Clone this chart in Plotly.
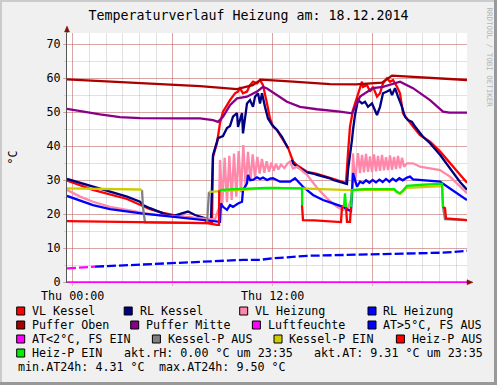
import plotly.graph_objects as go

# ---------------- data (time in hours of Thu 18.12.2014, values in °C) ----------------
vl_kessel_t = [-0.34, 1.22, 3.26, 4.22, 4.64, 5.42, 6.44, 7.46, 7.94, 8.06, 8.36, 8.42, 8.66, 8.84, 9.02,
               9.26, 9.44, 9.74, 9.92, 10.04, 10.22, 10.46, 10.64, 10.82, 11.06, 11.24, 11.42, 11.66, 11.84,
               12.02, 12.26, 12.44, 12.92, 13.22, 13.46, 14.06, 14.66, 15.62, 16.40, 16.52, 16.64, 16.82,
               17.12, 17.36, 17.42, 17.66, 17.84, 18.02, 18.26, 18.44, 18.62, 18.86, 19.04, 19.22, 19.46,
               19.64, 19.82, 20.12, 20.42, 20.84, 21.44, 22.04, 22.64, 23.24, 23.66]
vl_kessel_v = [29.9, 27.2, 24.5, 22.4, 21.5, 20.4, 19.4, 18.8, 18.3, 17.6, 17.4, 36.9, 41.0, 46.8, 50.2,
               52.1, 53.6, 55.6, 56.1, 57.1, 55.6, 56.1, 58.0, 59.0, 58.5, 59.5, 58.0, 52.6, 48.2,
               45.8, 44.8, 43.3, 39.6, 35.6, 34.4, 32.5, 31.9, 30.4, 29.2, 38.0, 45.8, 50.7,
               55.6, 59.0, 57.5, 58.0, 56.1, 57.5, 54.6, 55.6, 58.5, 60.0, 59.0, 59.5, 57.5,
               55.6, 49.7, 47.7, 45.8, 43.3, 41.4, 38.5, 35.0, 31.5, 29.3]

rl_kessel_t = [-0.34, 1.22, 3.26, 4.04, 4.22, 4.64, 5.42, 6.02, 6.62, 6.92, 7.34, 7.64, 7.94, 8.12, 8.30,
               8.36, 8.42, 8.72, 9.02, 9.26, 9.44, 9.62, 9.86, 9.92, 10.16, 10.22, 10.46, 10.64, 10.82,
               10.94, 11.12, 11.24, 11.36, 11.54, 11.72, 11.96, 12.26, 12.56, 12.92, 12.98, 13.16, 13.22,
               13.46, 13.64, 14.06, 14.42, 14.66, 15.44, 15.62, 16.34, 16.46, 16.52, 16.64, 16.76, 16.82,
               16.94, 17.12, 17.36, 17.54, 17.72, 17.96, 18.14, 18.26, 18.44, 18.62, 18.86, 19.04, 19.16,
               19.34, 19.52, 19.76, 19.94, 20.12, 20.36, 20.54, 21.02, 21.44, 22.04, 22.64, 23.24, 23.66]
rl_kessel_v = [30.4, 28.1, 25.2, 23.7, 22.7, 21.8, 20.3, 19.5, 20.3, 20.8, 19.8, 19.3, 19.0, 18.6, 18.5,
               32.1, 37.4, 42.4, 43.0, 45.4, 46.0, 48.7, 49.8, 45.7, 49.8, 43.8, 52.6, 53.6, 51.6,
               54.6, 55.6, 52.6, 55.6, 51.6, 48.2, 46.3, 44.8, 42.8, 39.4, None, 36.0, 35.0,
               34.0, 33.5, 32.3, 32.0, 31.6, 30.6, 30.1, 29.1, 28.9, 33.0, 36.9, 41.9, 44.8,
               49.2, 53.6, 52.6, 53.1, 51.6, 52.6, 50.7, 49.2, 51.6, 55.6, 56.1, 56.6, 55.1,
               57.1, 54.6, 51.6, 48.7, 47.7, 47.2, 45.8, 42.8, 40.9, 37.5, 33.5, 29.5, 27.2]

vl_heizung_t = [-0.34, 0.44, 1.22, 2.24, 3.26, 4.22, 5.24, 6.26, 7.46, 8.06, 8.54, 8.78,
                8.84, 8.98, 9.12, 9.26, 9.40, 9.54, 9.68, 9.82, 9.96, 10.10, 10.24, 10.38, 10.52, 10.66,
                10.80, 10.94, 11.08, 11.22, 11.36, 11.50, 11.64, 11.78, 11.92, 12.06, 12.20, 12.34,
                12.50, 12.70, 12.90, 13.04, 13.22, 13.46, 14.06, 14.66, 15.26, 15.86, 16.22, 16.52,
                16.76, 16.82, 16.94, 17.12, 17.24, 17.36, 17.48, 17.60, 17.72, 17.84, 17.96, 18.08,
                18.20, 18.32, 18.44, 18.56, 18.68, 18.80, 18.92, 19.04, 19.16, 19.28, 19.40, 19.52,
                19.64, 19.76, 19.88, 20.06, 20.42, 20.84, 21.44, 22.04, 22.64, 23.24, 23.66]
vl_heizung_v = [27.2, 25.2, 23.7, 22.2, 21.3, 20.4, 19.7, 19.3, 19.0, 18.7, 18.5, 22.0,
                36.0, 23.2, 36.6, 23.6, 37.2, 24.2, 37.9, 25.2, 38.6, 26.5, 40.4, 28.1, 38.4, 29.5,
                37.6, 30.8, 36.9, 32.0, 36.3, 32.2, 35.6, 32.5, 35.2, 32.8, 34.8, 33.2,
                34.6, 33.6, 35.0, 35.5, 33.5, 34.0, 31.6, 27.8, 24.7, 22.2, 21.3, 21.8,
                25.2, 37.9, 29.2, 38.0, 32.1, 37.5, 32.3, 37.8, 32.5, 37.0, 32.4, 37.6,
                32.6, 37.2, 32.8, 37.5, 32.9, 36.8, 33.0, 37.3, 33.1, 36.9, 33.3, 37.2,
                33.5, 36.6, 34.0, 35.0, 35.0, 34.0, 33.6, 33.0, 31.1, 28.3, 26.2]

rl_heizung_t = [-0.34, 0.44, 1.22, 2.24, 3.26, 4.22, 5.24, 6.26, 7.46, 8.06, 8.54, 8.84, 8.90, 9.02,
                9.26, 9.44, 9.62, 9.92, 10.16, 10.22, 10.46, 10.52, 10.64, 10.82, 11.06, 11.24, 11.42,
                11.66, 11.84, 12.02, 12.44, 13.04, 13.34, 13.52, 13.82, 14.42, 15.02, 15.62, 16.22,
                16.52, 16.70, 16.82, 17.06, 17.24, 17.42, 17.60, 17.80, 18.00, 18.20, 18.40, 18.60,
                18.80, 19.00, 19.20, 19.40, 19.60, 19.80, 20.06, 20.24, 20.42, 21.44, 22.04, 22.64,
                23.24, 23.66]
rl_heizung_v = [25.4, 24.0, 22.7, 21.5, 20.8, 20.2, 19.7, 19.2, 18.6, 18.3, 18.0, 17.8, 23.2, 22.2,
                21.3, 22.7, 22.2, 23.2, 23.7, 27.1, 29.1, 31.6, 30.1, 30.1, 30.9, 30.4, 30.8,
                30.1, 30.5, 30.6, 29.6, 29.6, 30.6, 29.6, 28.1, 25.7, 24.2, 23.2, 22.2,
                21.3, 21.0, 32.1, 28.1, 29.6, 29.2, 30.0, 29.3, 30.1, 29.4, 30.2, 29.5,
                30.4, 29.6, 30.5, 29.8, 30.6, 30.0, 30.8, 31.1, 30.3, 29.9, 29.6, 27.6,
                25.5, 24.2]

puffer_oben_t = [-0.34, 2.84, 6.44, 7.64, 9.86, 10.80, 11.30, 13.00, 15.44, 17.00, 18.56, 19.16, 21.50, 23.66]
puffer_oben_v = [59.7, 58.8, 58.0, 57.7, 56.8, 58.0, 59.6, 59.1, 58.3, 58.2, 58.7, 60.8, 60.2, 59.5]

puffer_mitte_t = [-0.34, 0.44, 1.64, 2.84, 4.04, 6.44, 7.64, 8.42, 8.72, 9.02, 9.44, 9.86, 10.46, 11.06,
                  11.42, 11.66, 12.26, 12.86, 13.64, 14.66, 16.04, 16.76, 17.24, 18.02, 18.62, 19.64,
                  20.42, 21.44, 22.22, 22.60, 23.66]
puffer_mitte_v = [51.0, 50.3, 49.4, 48.6, 48.3, 48.2, 48.2, 47.7, 47.2, 48.7, 52.1, 54.1, 54.6, 56.1,
                  57.5, 57.0, 55.1, 53.1, 51.6, 50.9, 50.2, 49.7, 54.6, 57.1, 57.5, 59.0,
                  57.1, 53.6, 50.2, 49.9, 49.9]

luftfeuchte_t = [-0.34, 23.66]
luftfeuchte_v = [0.0, 0.0]

at_warm_t = [1.34, 2.24, 3.26, 4.22, 5.24, 6.26, 7.46, 8.24, 9.26, 10.22, 11.24, 12.02, 13.04, 14.06,
             15.02, 16.04, 17.06, 18.02, 19.04, 20.06, 21.02, 22.04, 22.82, 23.66]
at_warm_v = [4.6, 4.8, 4.9, 5.1, 5.3, 5.6, 5.9, 6.1, 6.3, 6.6, 6.6, 7.1, 7.4, 7.8,
             7.9, 8.0, 8.1, 8.3, 8.4, 8.5, 8.6, 8.7, 8.9, 9.3]
at_cold_t = [-0.34, 0.44, 1.34]
at_cold_v = [4.1, 4.4, 4.6]

kesselp_aus_t = [4.16, 4.22, 4.34, 6.00, 8.06, 8.12, 8.18, 15.00, 22.22, 22.34, 23.66]
kesselp_aus_v = [27.1, 22.0, 17.6, 17.5, 17.4, 22.0, 26.6, None, 22.2, 18.6, 18.3]
kesselp_ein_t = [-0.34, 2.00, 4.04, 4.16, 6.00, 8.18, 8.84, 9.50, 11.00, 12.00, 13.64, 15.00, 16.04,
                 16.64, 17.50, 19.30, 19.46, 19.64, 19.82, 20.06, 21.00, 22.16, 22.22]
kesselp_ein_v = [27.6, 27.5, 27.3, 27.1, None, 26.6, 26.8, 27.2, 27.6, 27.8, 27.6, 27.3, 27.1,
                 27.1, 27.3, 27.2, 26.4, 26.0, 26.8, 27.8, 28.0, 28.3, 22.2]

heizp_aus_t = [-0.34, 3.44, 6.44, 8.06, 8.66, 8.78, 8.80, 11.00, 13.76, 13.82, 14.50, 15.44, 16.10,
               16.16, 16.28, 16.34, 16.40, 16.46, 16.64, 16.70, 19.00, 22.22, 22.34, 22.40, 23.66]
heizp_aus_v = [18.0, 17.8, 17.6, 17.4, 16.9, 16.9, 27.1, None, 22.7, 18.3, 18.2, 17.8, 17.7,
               22.2, 22.2, None, 22.2, 17.8, 17.8, 22.2, None, 22.2, 21.8, 18.8, 18.3]
heizp_ein_t = [8.80, 9.62, 11.66, 12.50, 13.64, 13.76, 13.77, 15.00, 16.28, 16.34, 16.40, 16.50,
               16.70, 16.76, 17.50, 19.30, 19.46, 19.64, 19.82, 20.06, 21.00, 22.16, 22.22]
heizp_ein_v = [27.1, 27.4, 27.8, 27.8, 27.6, 27.6, 22.7, None, 22.2, 26.2, 22.2, None,
               22.2, 27.1, 27.4, 27.4, 26.6, 26.2, 27.0, 28.4, 28.7, 29.0, 22.2]

y_ticks = [0, 10, 20, 30, 40, 50, 60, 70]
x_ticks = [0, 6, 12, 18]
x_ticktext = ["Thu 00:00", "", "Thu 12:00", ""]

title_text = "Temperaturverlauf Heizung am: 18.12.2014"
info_row4 = ["akt.rH: 0.00 °C um 23:35", "akt.AT: 9.31 °C um 23:35"]
info_row5 = ["min.AT24h: 4.31 °C", "max.AT24h: 9.50 °C"]

# ---------------- styles ----------------
C = {
    "VL Kessel": "#FF0000", "RL Kessel": "#000080", "VL Heizung": "#FF88AA", "RL Heizung": "#0000FF",
    "Puffer Oben": "#AA0000", "Puffer Mitte": "#880088", "Luftfeuchte": "#FF00FF",
    "AT>5°C, FS AUS": "#0000FF", "AT<2°C, FS EIN": "#FF00FF", "Kessel-P AUS": "#808080",
    "Kessel-P EIN": "#CCCC00", "Heiz-P AUS": "#FF0000", "Heiz-P EIN": "#00EE00",
}

series = [
    ("VL Kessel", vl_kessel_t, vl_kessel_v, None),
    ("RL Kessel", rl_kessel_t, rl_kessel_v, None),
    ("VL Heizung", vl_heizung_t, vl_heizung_v, None),
    ("RL Heizung", rl_heizung_t, rl_heizung_v, None),
    ("Puffer Oben", puffer_oben_t, puffer_oben_v, None),
    ("Puffer Mitte", puffer_mitte_t, puffer_mitte_v, None),
    ("Luftfeuchte", luftfeuchte_t, luftfeuchte_v, None),
    ("AT>5°C, FS AUS", at_warm_t, at_warm_v, "9px,3px"),
    ("AT<2°C, FS EIN", at_cold_t, at_cold_v, "9px,3px"),
    ("Kessel-P AUS", kesselp_aus_t, kesselp_aus_v, None),
    ("Kessel-P EIN", kesselp_ein_t, kesselp_ein_v, None),
    ("Heiz-P AUS", heizp_aus_t, heizp_aus_v, None),
    ("Heiz-P EIN", heizp_ein_t, heizp_ein_v, None),
]
for name, t, v, _ in series:
    assert len(t) == len(v), name

W, H = 497, 385
ML, MR, MT, MB = 67, 30, 33, 102
PW, PH = W - ML - MR, H - MT - MB
MONO = "DejaVu Sans Mono"
FS = 11.7


def fx(px):
    return (px - ML) / PW


def fy(py):
    return (H - MB - py) / PH


fig = go.Figure()
for name, t, v, dash in series:
    fig.add_trace(go.Scatter(
        x=t, y=v, mode="lines", name=name, showlegend=False, hoverinfo="skip",
        line=dict(color=C[name], width=2.3, dash=dash)))

MAJ = "rgba(205,70,70,0.38)"
MIN = "rgba(140,140,140,0.26)"
AXC = "#555555"

fig.update_xaxes(
    range=[-0.34, 23.66], tickmode="array", tickvals=x_ticks, ticktext=x_ticktext,
    showgrid=True, gridcolor=MAJ, gridwidth=1, zeroline=False, showline=False,
    ticks="outside", ticklen=2, tickcolor=MAJ,
    tickfont=dict(family=MONO, size=FS, color="black"),
    minor=dict(tickmode="linear", tick0=0, dtick=1, showgrid=True, gridcolor=MIN, gridwidth=1),
)
fig.update_yaxes(
    range=[-0.2, 73.32], tickmode="array", tickvals=y_ticks,
    showgrid=True, gridcolor=MAJ, gridwidth=1,
    zeroline=True, zerolinecolor=AXC, zerolinewidth=1,
    showline=True, linecolor=AXC, linewidth=1,
    ticks="outside", ticklen=3, tickcolor=MAJ,
    tickfont=dict(family=MONO, size=FS, color="black"),
    minor=dict(tickmode="linear", tick0=0, dtick=5, showgrid=True, gridcolor=MIN, gridwidth=1,
               ticks="outside", ticklen=2, tickcolor=MIN),
)

shapes = []
# frame of the whole image
shapes.append(dict(type="rect", xref="paper", yref="paper", x0=fx(0), x1=fx(W), y0=fy(0), y1=fy(2),
                   fillcolor="#CBCBCB", line=dict(width=0), layer="above"))
shapes.append(dict(type="rect", xref="paper", yref="paper", x0=fx(0), x1=fx(2), y0=fy(0), y1=fy(H),
                   fillcolor="#CBCBCB", line=dict(width=0), layer="above"))
shapes.append(dict(type="rect", xref="paper", yref="paper", x0=fx(W - 3), x1=fx(W), y0=fy(0), y1=fy(H),
                   fillcolor="#999999", line=dict(width=0), layer="above"))
shapes.append(dict(type="rect", xref="paper", yref="paper", x0=fx(0), x1=fx(W), y0=fy(H - 3), y1=fy(H),
                   fillcolor="#999999", line=dict(width=0), layer="above"))
# axis arrows
ARR = "#7F1010"
shapes.append(dict(type="line", xref="paper", yref="paper", x0=0, x1=0, y0=1, y1=fy(28),
                   line=dict(color=AXC, width=1)))
shapes.append(dict(type="path", xref="paper", yref="paper",
                   path=f"M {fx(64.5)},{fy(32)} L {fx(67)},{fy(26)} L {fx(69.5)},{fy(32)} Z",
                   fillcolor=ARR, line=dict(color=ARR, width=0.5)))
shapes.append(dict(type="line", xref="paper", yref="paper", x0=1, x1=fx(470), y0=fy(282.3), y1=fy(282.3),
                   line=dict(color=AXC, width=1)))
shapes.append(dict(type="path", xref="paper", yref="paper",
                   path=f"M {fx(467)},{fy(279.8)} L {fx(473)},{fy(282.3)} L {fx(467)},{fy(284.8)} Z",
                   fillcolor=ARR, line=dict(color=ARR, width=0.5)))

annotations = []
# legend
legend_rows = [
    ["VL Kessel", "RL Kessel", "VL Heizung", "RL Heizung"],
    ["Puffer Oben", "Puffer Mitte", "Luftfeuchte", "AT>5°C, FS AUS"],
    ["AT<2°C, FS EIN", "Kessel-P AUS", "Kessel-P EIN", "Heiz-P AUS"],
    ["Heiz-P EIN"],
]
legend_text_x = [
    [31, 138.5, 254, 382.3],
    [31, 145, 266.7, 382.3],
    [31, 166.7, 288.3, 410.7],
    [31],
]
row_y = [311, 325, 339, 353, 367]
for r, (labels, xs) in enumerate(zip(legend_rows, legend_text_x)):
    cy = row_y[r]
    for lab, tx in zip(labels, xs):
        bx = tx - 14.3
        shapes.append(dict(type="rect", xref="paper", yref="paper",
                           x0=fx(bx), x1=fx(bx + 8), y0=fy(cy + 4), y1=fy(cy - 4),
                           fillcolor=C[lab], line=dict(color="#000000", width=1), layer="above"))
        annotations.append(dict(text=lab, xref="paper", yref="paper", x=fx(tx), y=fy(cy),
                                xanchor="left", yanchor="middle", showarrow=False, borderpad=0,
                                font=dict(family=MONO, size=FS, color="black")))
for txt, tx in zip(info_row4, [123.3, 313.3]):
    annotations.append(dict(text=txt, xref="paper", yref="paper", x=fx(tx), y=fy(row_y[3]),
                            xanchor="left", yanchor="middle", showarrow=False, borderpad=0,
                            font=dict(family=MONO, size=FS, color="black")))
for txt, tx in zip(info_row5, [16.7, 157.6]):
    annotations.append(dict(text=txt, xref="paper", yref="paper", x=fx(tx), y=fy(row_y[4]),
                            xanchor="left", yanchor="middle", showarrow=False, borderpad=0,
                            font=dict(family=MONO, size=FS, color="black")))
# y axis unit
annotations.append(dict(text="°C", xref="paper", yref="paper", x=fx(12.5), y=fy(157), textangle=-90,
                        xanchor="center", yanchor="middle", showarrow=False, borderpad=0,
                        font=dict(family=MONO, size=FS, color="black")))
# watermark
annotations.append(dict(text="RRDTOOL / TOBI OETIKER", xref="paper", yref="paper", x=fx(488.5), y=fy(57),
                        textangle=90, xanchor="center", yanchor="middle", showarrow=False, borderpad=0,
                        font=dict(family=MONO, size=7.5, color="#B4B4B4")))

fig.update_layout(
    width=W, height=H, margin=dict(l=ML, r=MR, t=MT, b=MB, pad=0),
    paper_bgcolor="#F0F0F0", plot_bgcolor="#FFFFFF",
    title=dict(text=title_text, x=0.5, xref="container", xanchor="center",
               y=1 - 15 / H, yref="container", yanchor="middle",
               font=dict(family=MONO, size=13.3, color="black")),
    shapes=shapes, annotations=annotations, showlegend=False,
)

fig.write_html("out.html",
               config={"displayModeBar": False, "staticPlot": True},
               post_script="document.body.style.margin='0';document.body.style.overflow='hidden';")
